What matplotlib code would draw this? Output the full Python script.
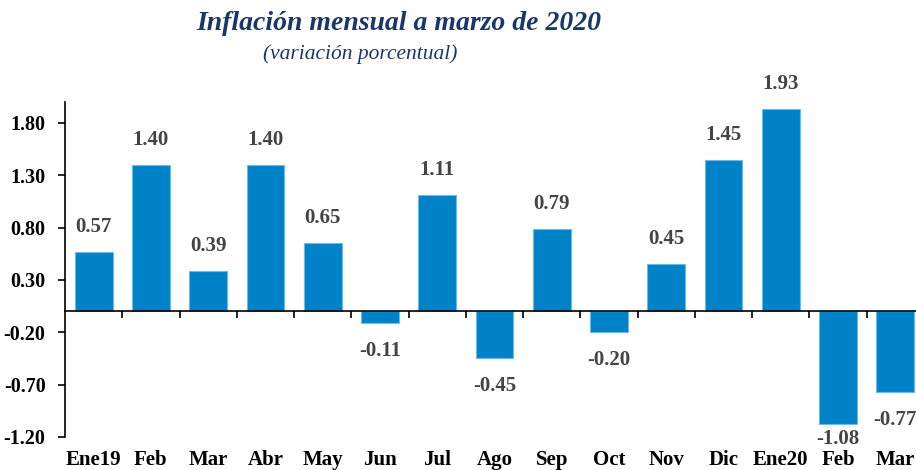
import matplotlib
matplotlib.use("Agg")
import matplotlib.pyplot as plt
from matplotlib.transforms import blended_transform_factory

months = ["Ene19", "Feb", "Mar", "Abr", "May", "Jun", "Jul", "Ago", "Sep",
          "Oct", "Nov", "Dic", "Ene20", "Feb", "Mar"]
values = [0.57, 1.40, 0.39, 1.40, 0.65, -0.11, 1.11, -0.45, 0.79,
          -0.20, 0.45, 1.45, 1.93, -1.08, -0.77]
yticks = [-1.20, -0.70, -0.20, 0.30, 0.80, 1.30, 1.80]

BAR = "#0082C9"
NAVY = "#1B3668"
serif = ["Liberation Serif", "DejaVu Serif"]

fig = plt.figure(figsize=(9.16, 4.70), dpi=100)
ax = fig.add_axes([65 / 916, 1 - 437 / 470, 1 - 65 / 916, (437 - 102) / 470])

x = list(range(len(months)))
ax.bar(x, values, width=0.66, color=BAR, edgecolor="#6BBBE8", linewidth=0.8, zorder=2)

ax.set_xlim(-0.5, 14.36)
ax.set_ylim(-1.2, 2.0)

# bottom spine sits on zero, ticks between categories
ax.spines["bottom"].set_position(("data", 0))
ax.spines["right"].set_visible(False)
ax.spines["top"].set_visible(False)
for s in ("left", "bottom"):
    ax.spines[s].set_linewidth(1.2)
    ax.spines[s].set_color("black")
ax.set_xticks([i + 0.5 for i in x[:-1]])
ax.set_xticklabels([])
ax.tick_params(axis="x", direction="out", length=5, width=1.2)

ax.set_yticks(yticks)
ax.set_yticklabels([f"{v:.2f}" for v in yticks], fontfamily=serif,
                   fontweight="bold", fontsize=14.5)
ax.tick_params(axis="y", direction="out", length=5, width=1.2, pad=9)

trans = blended_transform_factory(ax.transData, ax.transAxes)
for i, m in enumerate(months):
    ax.text(i, -0.07, m, transform=trans, ha="center", va="center",
            fontfamily=serif, fontweight="bold", fontsize=15)

for i, v in enumerate(values):
    if v >= 0:
        off = 25
    elif v < -1.0:
        off = -15  # squeezed above the month label
    else:
        off = -28
    ax.annotate(f"{v:.2f}", (i, v), xytext=(0, off), textcoords="offset pixels",
                ha="center", va="center",
                fontfamily=serif, fontweight="bold", fontsize=15, color="#444444")

fig.text(399 / 916, 1 - 24 / 470, "Inflación mensual a marzo de 2020", ha="center",
         va="center", fontfamily=serif, fontstyle="italic", fontweight="bold",
         fontsize=20, color=NAVY)
fig.text(360 / 916, 1 - 54 / 470, "(variación porcentual)", ha="center",
         va="center", fontfamily=serif, fontstyle="italic", fontsize=15.5, color=NAVY)

fig.savefig("out.png", dpi=100)
